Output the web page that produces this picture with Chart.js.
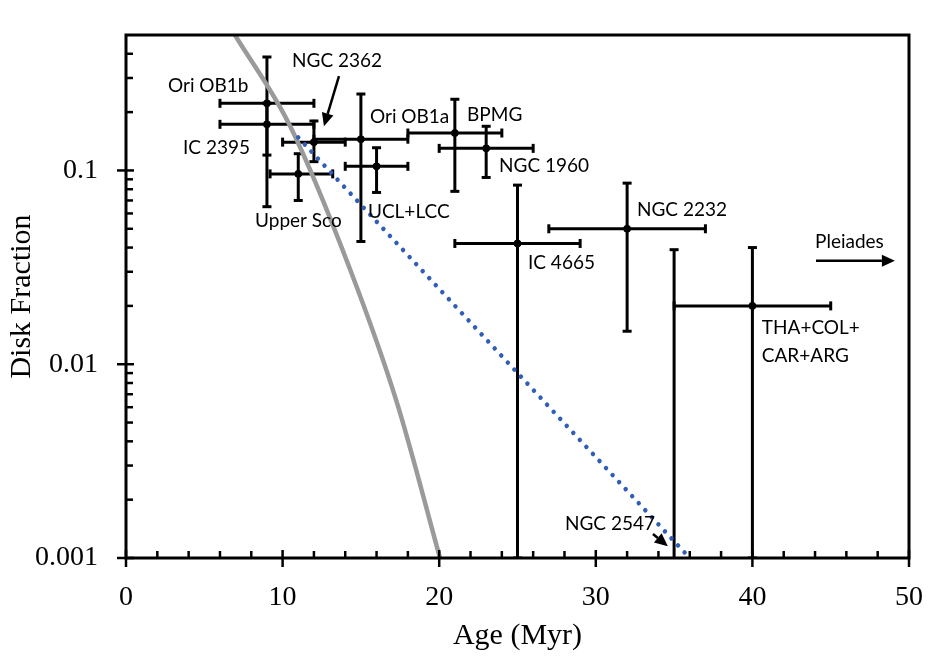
<!DOCTYPE html>
<html><head><meta charset="utf-8">
<script src="https://cdn.jsdelivr.net/npm/chart.js@4.4.1/dist/chart.umd.min.js"></script>
<style>html,body{margin:0;padding:0;background:#fff}canvas{display:block}</style>
</head><body>
<canvas id="c" width="942" height="665"></canvas>
<script>
// ---- data ----
const clusters = ['Ori OB1b','IC 2395','NGC 2362','Upper Sco','Ori OB1a','UCL+LCC','BPMG','NGC 1960','IC 4665','NGC 2232','THA+COL+CAR+ARG'];
const age    = [9, 9, 12, 11, 15, 16, 21, 23, 25, 32, 40];
const ageLo  = [6, 6, 10, 9.2, 12, 14, 18, 20, 21, 27, 35];
const ageHi  = [12, 12, 14, 13.2, 18, 18, 24, 26, 29, 37, 45];
const frac   = [0.222, 0.173, 0.14, 0.096, 0.145, 0.105, 0.156, 0.13, 0.042, 0.05, 0.02];
const fracLo = [0.12, 0.065, 0.111, 0.07, 0.043, 0.077, 0.078, 0.092, 0.001, 0.0148, 0.001];
const fracHi = [0.385, 0.222, 0.18, 0.122, 0.248, 0.131, 0.233, 0.169, 0.084, 0.086, 0.040];

// upper-limit cluster (no point, bar down to axis)
const limitName = ['NGC 2547'];
const limitAge  = [35];
const limitLo   = [0.001];
const limitHi   = [0.039];

// grey model curve
const curveAge  = [6.96, 10.47, 14.30, 17.31, 20.05];
const curveFrac = [0.50, 0.17, 0.031, 0.0063, 0.001];

// blue dotted fit
const fitAge  = [11, 36];
const fitFrac = [0.148, 0.001];

// ticks
const xTicks = [0, 10, 20, 30, 40, 50];
const yTicks = [0.001, 0.01, 0.1];

// text annotations (anchor in data coordinates)
const noteText = ['Ori OB1b','NGC 2362','IC 2395','Ori OB1a','BPMG','NGC 1960','Upper Sco','UCL+LCC','IC 4665','NGC 2232','Pleiades','THA+COL+','CAR+ARG','NGC 2547'];
const noteX    = [2.68, 10.6, 3.64, 15.58, 21.78, 23.82, 8.24, 15.45, 25.67, 32.63, 44.0, 40.6, 40.6, 28.03];
const noteY    = [0.272, 0.367, 0.130, 0.19, 0.193, 0.105, 0.0551, 0.0614, 0.0334, 0.0628, 0.0428, 0.0154, 0.0111, 0.0015];
// arrows [x0,y0,x1,y1]
const arrows = [
  [13.6, 0.307, 12.64, 0.169],
  [44.06, 0.0342, 49.1, 0.0342],
  [33.65, 0.00133, 34.6, 0.00115]
];

// ---- plugins ----
const errorBars = {
  id: 'errorBars',
  beforeDatasetsDraw(chart) {
    const {ctx, chartArea: a, scales: {x, y}} = chart;
    ctx.save();
    ctx.beginPath(); ctx.rect(a.left, a.top, a.right - a.left, a.bottom - a.top); ctx.clip();
    ctx.strokeStyle = '#000'; ctx.lineWidth = 3; ctx.lineCap = 'butt';
    const cap = 4.5;
    const line = (x0, y0, x1, y1) => { ctx.beginPath(); ctx.moveTo(x0, y0); ctx.lineTo(x1, y1); ctx.stroke(); };
    for (let i = 0; i < age.length; i++) {
      const px = x.getPixelForValue(age[i]), py = y.getPixelForValue(frac[i]);
      const xl = x.getPixelForValue(ageLo[i]), xh = x.getPixelForValue(ageHi[i]);
      const yl = y.getPixelForValue(fracLo[i]), yh = y.getPixelForValue(fracHi[i]);
      line(xl, py, xh, py);
      line(xl, py - cap, xl, py + cap);
      line(xh, py - cap, xh, py + cap);
      line(px, yl, px, yh);
      line(px - cap, yl, px + cap, yl);
      line(px - cap, yh, px + cap, yh);
    }
    for (let i = 0; i < limitAge.length; i++) {
      const px = x.getPixelForValue(limitAge[i]);
      const yl = y.getPixelForValue(limitLo[i]), yh = y.getPixelForValue(limitHi[i]);
      line(px, yl, px, yh);
      line(px - cap, yh, px + cap, yh);
    }
    ctx.restore();
  }
};

const frame = {
  id: 'frame',
  afterDraw(chart) {
    const {ctx, chartArea: a, scales: {x, y}} = chart;
    ctx.save();
    ctx.strokeStyle = '#000'; ctx.lineWidth = 3;
    ctx.strokeRect(a.left, a.top, a.right - a.left, a.bottom - a.top);
    ctx.lineWidth = 2.5;
    const line = (x0, y0, x1, y1) => { ctx.beginPath(); ctx.moveTo(x0, y0); ctx.lineTo(x1, y1); ctx.stroke(); };
    // x ticks
    for (let v = 0; v <= 50; v += 2) {
      const px = x.getPixelForValue(v);
      if (v % 10 === 0) line(px, a.bottom - 8, px, a.bottom + 9);
      else line(px, a.bottom, px, a.bottom - 7);
    }
    // y ticks
    for (let d = 0.001; d < 1; d *= 10) {
      for (let m = 1; m <= 9; m++) {
        const v = d * m;
        if (v > 0.5 * 0.999) continue;
        const py = y.getPixelForValue(v);
        if (m === 1) line(a.left - 9, py, a.left + 8, py);
        else line(a.left, py, a.left + 7, py);
      }
    }
    // labels
    ctx.fillStyle = '#000';
    ctx.font = '19px Lato';
    ctx.textAlign = 'left'; ctx.textBaseline = 'middle';
    for (let i = 0; i < noteText.length; i++) {
      ctx.fillText(noteText[i], x.getPixelForValue(noteX[i]), y.getPixelForValue(noteY[i]));
    }
    // arrows
    ctx.lineWidth = 2.5;
    for (const [ax0, ay0, ax1, ay1] of arrows) {
      const x0 = x.getPixelForValue(ax0), y0 = y.getPixelForValue(ay0);
      const x1 = x.getPixelForValue(ax1), y1 = y.getPixelForValue(ay1);
      const ang = Math.atan2(y1 - y0, x1 - x0);
      const hl = 13, hw = 6;
      const bx = x1 - hl * Math.cos(ang), by = y1 - hl * Math.sin(ang);
      line(x0, y0, bx, by);
      ctx.beginPath();
      ctx.moveTo(x1, y1);
      ctx.lineTo(bx + hw * Math.sin(ang), by - hw * Math.cos(ang));
      ctx.lineTo(bx - hw * Math.sin(ang), by + hw * Math.cos(ang));
      ctx.closePath(); ctx.fill();
    }
    ctx.restore();
  }
};

const serif = '"Liberation Serif", "Times New Roman", serif';

new Chart(document.getElementById('c'), {
  type: 'scatter',
  data: {
    datasets: [
      {
        label: 'Clusters',
        data: age.map((a, i) => ({x: a, y: frac[i]})),
        pointRadius: 3.5, pointBackgroundColor: '#000', pointBorderColor: '#000', pointBorderWidth: 1,
        order: 3
      },
      {
        label: 'Model', type: 'line', showLine: true,
        data: curveAge.map((a, i) => ({x: a, y: curveFrac[i]})),
        borderColor: '#9a9a9a', borderWidth: 4.5, pointRadius: 0, fill: false,
        cubicInterpolationMode: 'monotone', order: 2
      },
      {
        label: 'Fit', type: 'line', showLine: true,
        data: fitAge.map((a, i) => ({x: a, y: fitFrac[i]})),
        borderColor: '#2f5db8', borderWidth: 4.5, borderDash: [0.01, 9.6], borderCapStyle: 'round',
        pointRadius: 0, fill: false, order: 1
      }
    ]
  },
  options: {
    responsive: false, animation: false, devicePixelRatio: 1,
    layout: {padding: {left: 0, top: 35, right: 33, bottom: 0}},
    plugins: {legend: {display: false}, tooltip: {enabled: false}},
    scales: {
      x: {
        type: 'linear', min: 0, max: 50,
        afterBuildTicks(s) { s.ticks = xTicks.map(v => ({value: v})); },
        ticks: {font: {family: serif, size: 28}, color: '#000', padding: 23, maxRotation: 0, autoSkip: false},
        grid: {display: false, drawTicks: false},
        border: {display: false},
        title: {display: true, text: 'Age (Myr)', font: {family: serif, size: 30}, color: '#000', padding: {top: 0, bottom: 11}},
        afterFit(s) { s.height = 107; s.paddingLeft = 0; s.paddingRight = 0; }
      },
      y: {
        type: 'logarithmic', min: 0.001, max: 0.5,
        afterBuildTicks(s) { s.ticks = yTicks.map(v => ({value: v})); },
        ticks: {font: {family: serif, size: 28}, color: '#000', padding: 28, autoSkip: false, callback: v => String(v)},
        grid: {display: false, drawTicks: false},
        border: {display: false},
        title: {display: true, text: 'Disk Fraction', font: {family: serif, size: 30}, color: '#000', padding: {top: 4, bottom: 0}},
        afterFit(s) { s.width = 126; s.paddingTop = 0; s.paddingBottom = 0; }
      }
    }
  },
  plugins: [errorBars, frame]
});
</script>
</body></html>
